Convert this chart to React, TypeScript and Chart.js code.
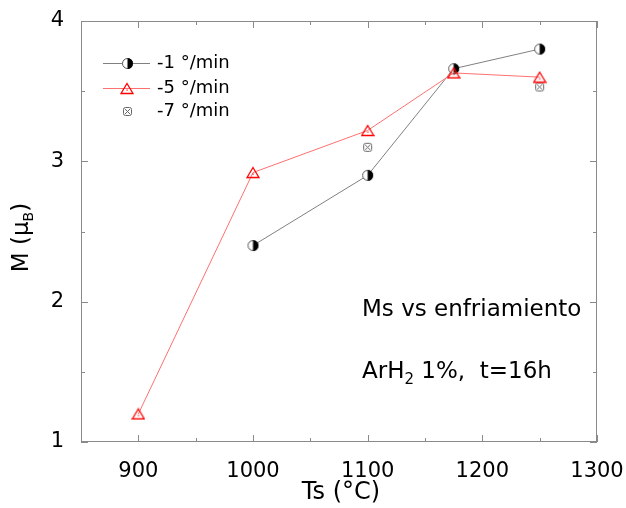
import React, { useEffect, useRef } from 'react';
import { Chart, registerables } from 'chart.js';

Chart.register(...registerables);

// ---- data ----
const seriesLabels = ['-1 °/min', '-5 °/min', '-7 °/min'];
const temps1 = [1000, 1100, 1175, 1250];
const mag1 = [2.40, 2.90, 3.66, 3.80];
const temps5 = [900, 1000, 1100, 1175, 1250];
const mag5 = [1.20, 2.92, 3.22, 3.63, 3.60];
const temps7 = [1100, 1250];
const mag7 = [3.10, 3.53];
const xTickValues = [900, 1000, 1100, 1200, 1300];
const yTickValues = [1, 2, 3, 4];
const xRange = [850, 1300];
const yRange = [1, 4];
const xMinorStep = 50;
const yMinorStep = 0.5;
const xTitle = 'Ts (°C)';
const yTitleMain = 'M (μ';
const yTitleSub = 'B';
const note1 = 'Ms vs enfriamiento';
const note2a = 'ArH';
const note2sub = '2';
const note2b = ' 1%,  t=16h';

const FONT = '"DejaVu Sans", Verdana, sans-serif';

function makeHalfCircle(): HTMLCanvasElement {
  const c = document.createElement('canvas');
  c.width = 13; c.height = 13;
  const g = c.getContext('2d')!;
  g.beginPath(); g.arc(6.5, 6.5, 5, 0, Math.PI * 2);
  g.fillStyle = '#ffffff'; g.fill();
  g.lineWidth = 1; g.strokeStyle = '#555555'; g.stroke();
  g.beginPath(); g.arc(6.5, 6.5, 5.5, -Math.PI / 2, Math.PI / 2); g.closePath();
  g.fillStyle = '#000000'; g.fill();
  return c;
}

function makeTriangle(): HTMLCanvasElement {
  const c = document.createElement('canvas');
  c.width = 14; c.height = 13;
  const g = c.getContext('2d')!;
  g.beginPath(); g.moveTo(7, 1.5); g.lineTo(13, 11.5); g.lineTo(1, 11.5); g.closePath();
  g.lineWidth = 1.3; g.strokeStyle = '#ff0000'; g.stroke();
  g.fillStyle = '#ff0000'; g.fillRect(6.5, 7.5, 1.2, 1.2);
  return c;
}

function makeCrossBox(): HTMLCanvasElement {
  const c = document.createElement('canvas');
  c.width = 11; c.height = 11;
  const g = c.getContext('2d')!;
  g.strokeStyle = '#666666'; g.lineWidth = 1;
  g.beginPath();
  const r = 2;
  g.moveTo(1.5 + r, 1.5); g.lineTo(9.5 - r, 1.5); g.quadraticCurveTo(9.5, 1.5, 9.5, 1.5 + r);
  g.lineTo(9.5, 9.5 - r); g.quadraticCurveTo(9.5, 9.5, 9.5 - r, 9.5);
  g.lineTo(1.5 + r, 9.5); g.quadraticCurveTo(1.5, 9.5, 1.5, 9.5 - r);
  g.lineTo(1.5, 1.5 + r); g.quadraticCurveTo(1.5, 1.5, 1.5 + r, 1.5);
  g.stroke();
  g.beginPath(); g.moveTo(3, 3); g.lineTo(8, 8); g.moveTo(8, 3); g.lineTo(3, 8); g.stroke();
  return c;
}

export default function App() {
  const ref = useRef<HTMLCanvasElement>(null);
  useEffect(() => {
    document.body.style.margin = '0';
    const half = makeHalfCircle();
    const tri = makeTriangle();
    const box = makeCrossBox();
    const lineColors = ['#808080', '#ff7070', null];
    const symbols = [half, tri, box];

    const decor = {
      id: 'decor',
      afterDraw(chart: any) {
        const { ctx, chartArea: a, scales } = chart;
        const x = scales.x, y = scales.y;
        ctx.save();
        ctx.strokeStyle = '#8a8a8a';
        ctx.lineWidth = 1;
        ctx.strokeRect(a.left + 0.5, a.top + 0.5, a.right - a.left - 1, a.bottom - a.top - 1);
        ctx.beginPath();
        for (let v = xRange[0]; v <= xRange[1] + 1e-9; v += xMinorStep) {
          const px = Math.round(x.getPixelForValue(v)) + 0.5;
          const len = xTickValues.includes(v) ? 7 : 4;
          ctx.moveTo(px, a.bottom); ctx.lineTo(px, a.bottom - len);
          ctx.moveTo(px, a.top); ctx.lineTo(px, a.top + len);
        }
        for (let v = yRange[0]; v <= yRange[1] + 1e-9; v += yMinorStep) {
          const py = Math.round(y.getPixelForValue(v)) + 0.5;
          const len = yTickValues.includes(v) ? 7 : 4;
          ctx.moveTo(a.left, py); ctx.lineTo(a.left + len, py);
          ctx.moveTo(a.right, py); ctx.lineTo(a.right - len, py);
        }
        ctx.stroke();

        // axis titles
        ctx.fillStyle = '#000';
        ctx.font = `24px ${FONT}`;
        ctx.textAlign = 'center';
        ctx.textBaseline = 'middle';
        ctx.fillText(xTitle, (a.left + a.right) / 2 + 2, 493);

        ctx.save();
        ctx.translate(22, (a.top + a.bottom) / 2 + 6);
        ctx.rotate(-Math.PI / 2);
        ctx.font = `23px ${FONT}`;
        const w1 = ctx.measureText(yTitleMain).width;
        ctx.font = `14px ${FONT}`;
        const w2 = ctx.measureText(yTitleSub).width;
        ctx.font = `23px ${FONT}`;
        const w3 = ctx.measureText(')').width;
        let sx = -(w1 + w2 + w3) / 2;
        ctx.textAlign = 'left';
        ctx.fillText(yTitleMain, sx, 0);
        ctx.font = `14px ${FONT}`;
        ctx.fillText(yTitleSub, sx + w1, 7);
        ctx.font = `23px ${FONT}`;
        ctx.fillText(')', sx + w1 + w2, 0);
        ctx.restore();

        // legend
        const rows = [63, 88, 111];
        ctx.textAlign = 'left';
        ctx.font = `18px ${FONT}`;
        for (let i = 0; i < 3; i++) {
          const ry = rows[i];
          if (lineColors[i]) {
            ctx.strokeStyle = lineColors[i] as string;
            ctx.beginPath(); ctx.moveTo(103, ry + 0.5); ctx.lineTo(150, ry + 0.5); ctx.stroke();
          }
          const s = symbols[i];
          ctx.drawImage(s, Math.round(127 - s.width / 2), Math.round(ry - s.height / 2));
          ctx.fillStyle = '#000';
          ctx.fillText(seriesLabels[i], 157, ry);
        }

        // notes
        ctx.font = `23px ${FONT}`;
        ctx.fillText(note1, 362, 310);
        ctx.fillText(note2a, 362, 372);
        const wa = ctx.measureText(note2a).width;
        ctx.font = `15px ${FONT}`;
        ctx.fillText(note2sub, 362 + wa, 380);
        const ws = ctx.measureText(note2sub).width;
        ctx.font = `23px ${FONT}`;
        ctx.fillText(note2b, 362 + wa + ws, 372);
        ctx.restore();
      },
    };

    const chart = new Chart(ref.current!, {
      type: 'line',
      data: {
        datasets: [
          {
            label: seriesLabels[1],
            data: temps5.map((t, i) => ({ x: t, y: mag5[i] })),
            borderColor: '#ff7070',
            borderWidth: 1,
            pointStyle: tri as any,
            pointRadius: 6,
            order: 0,
          },
          {
            label: seriesLabels[0],
            data: temps1.map((t, i) => ({ x: t, y: mag1[i] })),
            borderColor: '#808080',
            borderWidth: 1,
            pointStyle: half as any,
            pointRadius: 6,
            order: 1,
          },
          {
            label: seriesLabels[2],
            data: temps7.map((t, i) => ({ x: t, y: mag7[i] })),
            showLine: false,
            pointStyle: box as any,
            pointRadius: 6,
            order: 2,
          },
        ],
      },
      options: {
        animation: false,
        responsive: false,
        devicePixelRatio: 1,
        layout: { padding: { top: 21, right: 29, left: 0, bottom: 0 } },
        plugins: { legend: { display: false }, tooltip: { enabled: false } },
        scales: {
          x: {
            type: 'linear',
            min: xRange[0],
            max: xRange[1],
            grid: { display: false },
            border: { display: false },
            afterBuildTicks: (s: any) => { s.ticks = xTickValues.map((v) => ({ value: v })); },
            afterFit: (s: any) => { s.height = 66; s.paddingLeft = 0; s.paddingRight = 0; },
            ticks: {
              color: '#000',
              font: { family: FONT, size: 21 },
              padding: 9,
              maxRotation: 0,
              callback: (v: any) => String(v),
            },
          },
          y: {
            type: 'linear',
            min: yRange[0],
            max: yRange[1],
            grid: { display: false },
            border: { display: false },
            afterBuildTicks: (s: any) => { s.ticks = yTickValues.map((v) => ({ value: v })); },
            afterFit: (s: any) => { s.width = 81; s.paddingTop = 0; s.paddingBottom = 0; },
            ticks: {
              color: '#000',
              font: { family: FONT, size: 21 },
              padding: 9,
              callback: (v: any) => String(v),
            },
          },
        },
      },
      plugins: [decor],
    });
    return () => chart.destroy();
  }, []);
  return (
    <div style={{ width: 626, height: 508, position: 'relative' }}>
      <canvas ref={ref} width={626} height={508} />
    </div>
  );
}
